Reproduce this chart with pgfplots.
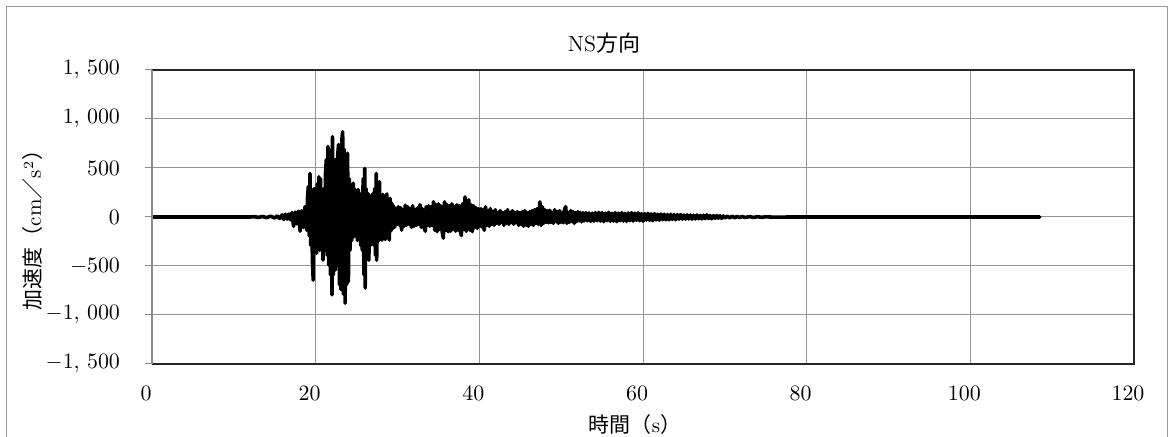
\documentclass[border=0pt]{standalone}
\usepackage{fontspec}
\usepackage{pgfplots}
\pgfplotsset{compat=1.18}
\newfontfamily\cjk{Noto Sans CJK JP}
\begin{document}
\begin{tikzpicture}
\begin{axis}[
  at={(0,0)}, anchor=south west,
  scale only axis, width=491pt, height=147pt,
  xmin=0, xmax=120, ymin=-1500, ymax=1500,
  xtick={0,20,...,120},
  ytick={-1500,-1000,...,1500},
  yticklabels={{$-1,\,500$},{$-1,\,000$},{$-500$},{$0$},{$500$},{$1,\,000$},{$1,\,500$}},
  grid=major,
  grid style={color=black!42, line width=0.5pt},
  axis line style={draw=none},
  tick align=outside,
  major tick length=3.5pt,
  xtick style={draw=none},
  ytick style={color=black!45, line width=0.5pt},
  xtick pos=bottom, ytick pos=left,
  tick label style={font=\fontsize{10.5}{12}\selectfont, text=black},
  xticklabel style={xshift=-3pt, yshift=-4pt},
  yticklabel style={xshift=-9pt},
]
\addplot[black, line width=1.8pt, line join=round, line cap=round] coordinates {
(0,0)(12,0)(12.5,3)(13,-4)(13.5,5)(14,-6)(14.5,8)(15,-10)(15.3,12)(15.6,-15)(15.9,22)(16.1,-25)(16.3,28)(16.5,-22)(16.7,30)(16.9,-28)(17.1,45)(17.3,-95)(17.5,50)(17.7,-70)(17.9,60)(18.1,-145)(18.3,65)(18.5,-105)(18.7,105)(18.9,-135)(19.0,190)(19.1,310)(19.2,-190)(19.3,445)(19.4,-290)(19.5,240)(19.6,-440)(19.7,-645)(19.8,290)(19.9,-240)(20.0,190)(20.1,-370)(20.2,340)(20.3,-290)(20.4,410)(20.5,-340)(20.6,390)(20.7,-290)(20.8,240)(20.9,-440)(21.0,290)(21.1,-340)(21.2,440)(21.3,585)(21.4,-390)(21.5,720)(21.6,-490)(21.7,640)(21.8,-590)(21.9,690)(22.0,-795)(22.05,820)(22.15,-590)(22.25,490)(22.4,-540)(22.5,590)(22.6,-440)(22.7,640)(22.8,740)(22.9,-690)(23.0,590)(23.1,-740)(23.2,790)(23.3,870)(23.4,-790)(23.5,690)(23.6,-880)(23.7,640)(23.8,-690)(23.9,650)(24.0,-660)(24.1,390)(24.2,-340)(24.3,280)(24.4,-240)(24.5,240)(24.6,345)(24.7,-200)(24.8,285)(24.9,-190)(25.0,240)(25.1,-240)(25.2,280)(25.3,-170)(25.4,210)(25.5,-290)(25.6,240)(25.7,-340)(25.8,390)(25.9,-590)(26.0,495)(26.05,-725)(26.15,290)(26.3,-340)(26.4,240)(26.5,-440)(26.6,190)(26.7,-290)(26.8,220)(26.9,-240)(27.0,240)(27.1,-290)(27.2,290)(27.3,-390)(27.4,445)(27.45,-440)(27.6,240)(27.7,-240)(27.8,360)(27.9,-190)(28.0,190)(28.1,-235)(28.2,230)(28.3,-170)(28.4,190)(28.5,-230)(28.6,170)(28.7,235)(28.8,-190)(28.9,140)(29.0,-235)(29.1,190)(29.2,-140)(29.3,140)(29.4,-120)
(29.5,115)(29.65,-105)(29.8,85)(29.95,-75)(30.1,105)(30.25,-85)(30.4,95)(30.5,-135)(30.65,75)(30.8,-95)(30.95,120)(31.1,-85)(31.25,105)(31.4,-75)(31.55,85)(31.7,-105)(31.85,115)(32.0,-95)(32.15,75)(32.3,-85)(32.45,95)(32.6,-75)(32.75,125)(32.9,-105)(33.05,85)(33.2,-95)(33.4,-145)(33.5,105)(33.65,-85)(33.8,115)(33.95,-95)(34.1,105)(34.25,-85)(34.4,155)(34.55,-135)(34.7,125)(34.85,-150)(35.0,135)(35.15,-125)(35.3,115)(35.45,-145)(35.6,-215)(35.75,155)(35.9,-135)(36.05,125)(36.2,-150)(36.35,115)(36.5,-145)(36.65,135)(36.8,-125)(36.95,105)(37.1,-145)(37.25,125)(37.4,-135)(37.55,115)(37.7,-150)(37.8,-190)(37.95,135)(38.1,-125)(38.25,205)(38.4,-145)(38.55,135)(38.7,175)(38.85,-135)(39.0,125)(39.15,-150)(39.3,115)(39.45,-105)(39.6,95)(39.75,-115)(39.9,85)(40.05,-95)(40.2,85)(40.35,-105)(40.5,75)(40.6,-135)(40.75,105)(40.9,-85)(41.05,65)(41.2,-95)(41.35,85)(41.5,-75)(41.65,55)(41.8,-85)(41.95,75)(42.1,-65)(42.25,45)(42.4,-75)(42.55,65)(42.7,-55)(42.85,45)(43.0,-85)(43.15,55)(43.3,-65)(43.45,75)(43.6,-75)(43.75,45)(43.9,-55)(44.05,65)(44.2,-75)(44.35,45)(44.5,-55)(44.65,55)(44.8,-85)(44.95,45)(45.1,-75)(45.25,55)(45.4,-95)(45.55,65)(45.7,-85)(45.85,45)(46.0,-95)(46.15,55)(46.3,-75)(46.45,65)(46.6,-85)(46.75,75)(46.9,-65)(47.05,85)(47.2,-75)(47.4,155)(47.55,-85)(47.7,105)(47.85,-65)(48.0,75)(48.15,-55)(48.3,65)(48.45,-60)(48.6,70)(48.75,-55)(48.9,45)(49.05,-65)(49.2,75)(49.35,-45)(49.5,55)(49.65,-65)(49.8,65)(49.95,-55)(50.1,45)(50.25,-60)(50.4,75)(50.55,105)(50.7,-65)(50.85,45)(51.0,-55)(51.15,65)(51.3,-45)(51.45,55)(51.6,-65)(51.75,45)(51.9,-45)(52.05,55)(52.2,-40)(52.35,45)(52.5,-50)(52.65,45)
(52.8,-40)(53.0,45)(53.2,-38)(53.4,42)(53.6,-45)(53.8,38)(54.0,-42)(54.2,45)(54.4,-38)(54.6,48)(54.8,-42)(55.0,45)(55.2,-48)(55.4,40)(55.6,-38)(55.8,48)(56.0,-45)(56.2,38)(56.4,-42)(56.6,45)(56.8,-48)(57.0,40)(57.2,-38)(57.4,45)(57.6,-42)(57.8,38)(58.0,-45)(58.2,42)(58.4,-38)(58.6,45)(58.8,-42)(59.0,38)(59.2,-35)(59.4,42)(59.6,-38)(59.8,35)(60.0,-42)(60.2,35)(60.4,-32)(60.6,38)(60.8,-35)(61.0,32)(61.2,-38)(61.4,35)(61.6,-30)(61.8,28)(62.0,-32)(62.2,30)(62.4,-28)(62.6,28)(62.8,-30)(63.0,25)(63.2,-28)(63.4,28)(63.6,-25)(63.8,25)(64.0,-28)(64.2,25)(64.4,-22)(64.6,25)(64.8,-22)(65.0,20)(65.2,-22)(65.4,22)(65.6,-20)(65.8,20)(66.0,-22)(66.2,18)(66.4,-20)(66.6,20)(66.8,-18)(67.0,16)(67.2,-20)(67.4,18)(67.6,-16)(67.8,22)(68.0,-16)(68.2,14)(68.4,-18)(68.6,14)(68.8,-12)(69.0,15)(69.2,-12)(69.4,12)(69.6,-14)(69.8,10)(70.0,-10)(70.3,8)(70.6,-8)(70.9,7)(71.2,-7)(71.5,6)(71.8,-6)(72.1,5)(72.5,-5)(73,4)(73.5,-4)(74,3)(74.5,-3)(75,2)(76,-2)(78,0)(108.5,0)
};
\end{axis}
\draw[black!85, line width=0.8pt] (0,0) -- (491pt,0) -- (491pt,147pt) -- (0,147pt);
\draw[black!45, line width=0.6pt] (0,0) -- (0,147pt);
\node[font=\fontsize{11}{13}\selectfont] at (226pt,160.5pt) {NS{\cjk 方向}};
\node[font=\fontsize{10.5}{12}\selectfont] at (241.5pt,-30.5pt) {{\cjk 時間（}s{\cjk ）}};
\node[rotate=90, font=\fontsize{10.5}{12}\selectfont] at (-59.5pt,69.5pt) {{\cjk 加速度（}cm{\cjk ／}s$^{2}${\cjk ）}};
\draw[black!40, line width=0.5pt] (-72.5pt,-45pt) -- (-72.5pt,178.5pt) -- (507.5pt,178.5pt) -- (507.5pt,-45pt);
\pgfresetboundingbox
\useasboundingbox (-76pt,-36.5pt) rectangle (509.5pt,182pt);
\end{tikzpicture}
\end{document}
